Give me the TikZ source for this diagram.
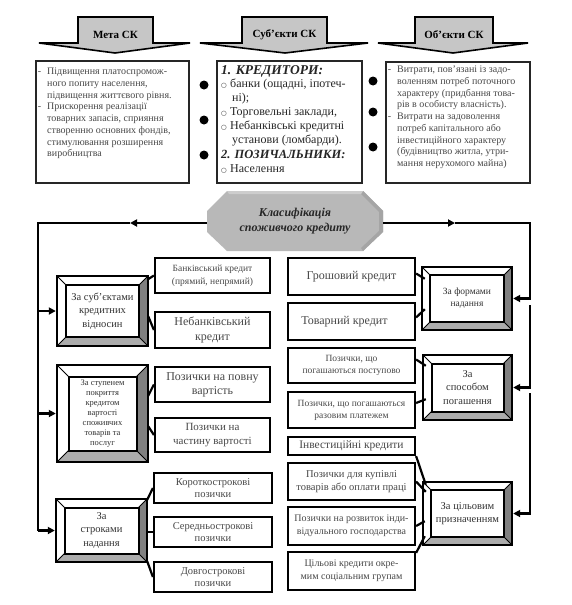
\documentclass[tikz,border=0pt]{standalone}
\usepackage{fontspec}
\setmainfont{Liberation Serif}
\newfontfamily\djv{DejaVu Sans}
\usetikzlibrary{calc,arrows.meta}
\definecolor{arrgray}{RGB}{198,198,198}
\definecolor{bevdark}{RGB}{128,128,128}
\definecolor{bevlight}{RGB}{172,172,172}
\definecolor{octgray}{RGB}{184,184,184}
\definecolor{txtgray}{RGB}{72,72,72}
\tikzset{
  conn/.style={line width=2.2pt, black},
  arr/.style={-{Triangle[length=7pt,width=7pt]}},
  subbox/.style={draw=black, line width=2.2pt, fill=white, inner sep=1pt, align=center, text=txtgray},
  topbox/.style={draw=black!85, line width=2pt, fill=white, inner sep=0pt},
  toptext/.style={anchor=north west, inner sep=0pt, align=left},
}
\newcommand{\oc}{\makebox[9pt][l]{\djv\fontsize{6.5}{7}\selectfont ○}}
\newcommand{\hdr}[2]{{\fontsize{#1}{16}\selectfont\textbf{\textit{#2}}}}
\newcommand{\mkbox}[7]{%
  \node[subbox, minimum width={(#4-#2)*1pt}, minimum height={(#5-#3)*1pt}, font=#6] (#1) at ({(#2+#4)/2},{(#3+#5)/2}) {#7};}
\newcommand{\mkbevel}[8]{%
  \fill[white] (#2,#3) rectangle (#4,#5);
  \fill[bevdark] (#4,#3) -- (#4-#6,#3+#6) -- (#4-#6,#5-#6) -- (#4,#5) -- cycle;
  \fill[bevlight] (#2,#5) -- (#2+#6,#5-#6) -- (#4-#6,#5-#6) -- (#4,#5) -- cycle;
  \draw[line width=0.8pt] (#2,#3) -- (#2+#6,#3+#6) (#4,#3) -- (#4-#6,#3+#6)
        (#2,#5) -- (#2+#6,#5-#6) (#4,#5) -- (#4-#6,#5-#6);
  \node[draw, line width=2.4pt, inner sep=0pt, minimum width={(#4-#2)*1pt}, minimum height={(#5-#3)*1pt}] (#1) at ({(#2+#4)/2},{(#3+#5)/2}) {};
  \node[draw, line width=2pt, fill=white, inner sep=0pt, align=center, text=black!80, font=#7,
        minimum width={(#4-#2-2*#6)*1pt}, minimum height={(#5-#3-2*#6)*1pt}] (#1-in) at ({(#2+#4)/2},{(#3+#5)/2}) {#8};}
\newcommand{\mkarrow}[7]{%
  \filldraw[fill=arrgray, draw=black, line width=1.6pt, line join=miter]
    (#2,17) -- (#3,17) -- (#3,43) -- (#5,43) -- (#6,53) -- (#4,43) -- (#2,43) -- cycle;
  \node[font=\bfseries\fontsize{11}{13}\selectfont, inner sep=0pt] (#1) at ({(#2+#3)/2},35) {#7};}
\begin{document}
\begin{tikzpicture}[x=1pt,y=-1pt]
\useasboundingbox (0,0) rectangle (571,605);
\fill[white] (0,0) rectangle (571,605);

% ---------- top arrows ----------
\mkarrow{hmeta}{78}{153}{39}{190}{115}{Мета СК}
\mkarrow{hsubj}{242}{327}{200}{368}{285}{Суб’єкти СК}
\mkarrow{hobj}{415}{493}{378}{528}{453}{Об’єкти СК}

% ---------- top boxes ----------
\node[topbox, minimum width=153, minimum height=122] (meta) at (112.5,122) {};
\node[topbox, minimum width=145, minimum height=122] (subj) at (289.5,122) {};
\node[topbox, minimum width=144, minimum height=121] (obj) at (458,122.5) {};

\node[toptext, text=txtgray, font=\fontsize{10}{11.7}\selectfont] (metat) at (47,68)
 {\llap{-\hspace{6pt}}Підвищення платоспромож-\\ного попиту населення,\\підвищення життєвого рівня.\\\llap{-\hspace{6pt}}Прискорення реалізації\\товарних запасів, сприяння\\створенню основних фондів,\\стимулювання розширення\\виробництва};
\node[toptext, text=black!85, font=\fontsize{12}{13.8}\selectfont] (subjt) at (221,65)
 {\hdr{13.5}{1. КРЕДИТОРИ:}\\\oc банки (ощадні, іпотеч-\\\hspace*{11pt}ні);\\\oc Торговельні заклади,\\\oc Небанківські кредитні\\\hspace*{11pt}установи (ломбарди).\\[2pt]\hdr{12.5}{2. ПОЗИЧАЛЬНИКИ:}\\\oc Населення};
\node[toptext, text=txtgray, font=\fontsize{10}{11.7}\selectfont] (objt) at (397,66)
 {\llap{-\hspace{6pt}}Витрати, пов’язані із задо-\\воленням потреб поточного\\характеру (придбання това-\\рів в особисту власність).\\\llap{-\hspace{6pt}}Витрати на задоволення\\потреб капітального або\\інвестиційного характеру\\(будівництво житла, утри-\\мання нерухомого майна)};

\foreach \yy in {85,120,155} \fill (204,\yy) circle (4.5);
\foreach \yy in {81,112,147} \fill (373,\yy) circle (4.5);

% ---------- classification octagon ----------
\fill[octgray] (227,191) -- (363,191) -- (383,211) -- (383,232) -- (363,251) -- (227,251) -- (207,232) -- (207,211) -- cycle;
\fill[octgray!90!black] (363,191) -- (383,211) -- (383,232) -- (363,251) -- (361,248) -- (379,231) -- (379,212) -- (361,194) -- cycle;
\fill[octgray!70!white] (227,191) -- (363,191) -- (361,194) -- (229,194) -- cycle;
\node[font=\bfseries\itshape\fontsize{12}{15}\selectfont, text=black!85, align=center, minimum width=176, minimum height=60, inner sep=0pt] (cls) at (295,221) {Класифікація\\споживчого кредиту};

% ---------- category boxes ----------
\mkbevel{c1}{57}{276}{148}{346}{9}{\fontsize{10.5}{13.5}\selectfont}{За суб’єктами\\кредитних\\відносин}
\mkbevel{c2}{57}{365}{148}{462}{11.5}{\fontsize{8.5}{10}\selectfont}{За ступенем\\покриття\\кредитом\\вартості\\споживчих\\товарів та\\послуг}
\mkbevel{c3}{56}{499}{147}{562}{8.5}{\fontsize{10.5}{13.5}\selectfont}{За\\строками\\надання}
\mkbevel{c4}{422}{267}{512}{330}{8}{\fontsize{9.5}{12}\selectfont}{За формами\\надання}
\mkbevel{c5}{423}{355}{512}{420}{8.5}{\fontsize{10.5}{13.5}\selectfont}{За\\способом\\погашення}
\mkbevel{c6}{423}{482}{512}{545}{8}{\fontsize{10.5}{13}\selectfont}{За цільовим\\призначенням}

% ---------- sub boxes ----------
\mkbox{b1}{155}{258}{270}{293}{\fontsize{9.5}{13}\selectfont}{Банківський кредит\\(прямий, непрямий)}
\mkbox{b2}{155}{312}{270}{348}{\fontsize{12}{14.5}\selectfont}{Небанківський\\кредит}
\mkbox{b3}{155}{367}{270}{402}{\fontsize{12}{14}\selectfont}{Позички на повну\\вартість}
\mkbox{b4}{155}{418}{270}{452}{\fontsize{11}{14}\selectfont}{Позички на\\частину вартості}
\mkbox{b5}{154}{473}{272}{503}{\fontsize{10.5}{12.5}\selectfont}{Короткострокові\\позички}
\mkbox{b6}{154}{517}{272}{547}{\fontsize{10.5}{12.5}\selectfont}{Середньострокові\\позички}
\mkbox{b7}{154}{562}{272}{592}{\fontsize{10.5}{12.5}\selectfont}{Довгострокові\\позички}

\mkbox{d1}{288}{258}{415}{295}{\fontsize{12}{14}\selectfont}{Грошовий кредит}
\mkbox{d2}{288}{303}{415}{340}{\fontsize{12}{14}\selectfont}{Товарний кредит\hspace*{14pt}}
\mkbox{d3}{288}{348}{415}{383}{\fontsize{9.5}{12}\selectfont}{Позички, що\\погашаються поступово}
\mkbox{d4}{288}{392}{415}{428}{\fontsize{9.5}{12}\selectfont}{Позички, що погашаються\\разовим платежем}
\mkbox{d5}{288}{437}{415}{455}{\fontsize{11.5}{13}\selectfont}{Інвестиційні кредити}
\mkbox{d6}{288}{463}{415}{500}{\fontsize{10.5}{13}\selectfont}{Позички для купівлі\\товарів або оплати праці}
\mkbox{d7}{288}{507}{415}{545}{\fontsize{10}{13}\selectfont}{Позички на розвиток інди-\\відуального господарства}
\mkbox{d8}{288}{552}{415}{590}{\fontsize{10}{13}\selectfont}{Цільові кредити окре-\\мим соціальним групам}

% ---------- short connectors ----------
\draw[conn] ($(c1.north east)+(-2,5)$) -- (b1.west);
\draw[conn] ($(c1.south east)+(-1,-31)$) -- (b2.west);
\draw[conn] ($(c2.north east)+(-1,32)$) -- (b3.west);
\draw[conn] ($(c2.south east)+(-1,-37)$) -- (b4.west);
\draw[conn] ($(c3.north east)+(-1,2)$) -- (b5.west);
\draw[conn] (b6.west -| c3.east) -- (b6.west);
\draw[conn] ($(c3.south east)+(-1,-2)$) -- (b7.west);

\draw[conn] ($(d1.east)+(0,-3)$) -- ($(c4.north west)+(4,13)$);
\draw[conn] ($(d2.east)+(0,-4)$) -- ($(c4.south west)+(4,-22)$);
\draw[conn] ($(d3.east)+(0,-6)$) -- ($(c5.north west)+(4,12)$);
\draw[conn] ($(d4.east)+(0,-7)$) -- ($(c5.south west)+(4,-22)$);
\draw[conn] (d5.south east) -- ($(c6.north west)+(4,4)$);
\draw[conn] (d6.east) -- ($(c6.north west)+(4,11)$);
\draw[conn] (d7.east) -- ($(c6.south west)+(3,-25)$);
\draw[conn] ($(d8.north east)+(0,2)$) -- ($(c6.south west)+(3,-10)$);

% ---------- main connectors ----------
\coordinate (lmid) at (130,223);
\coordinate (L0) at (38,223);
\draw[conn,arr] ($(cls.west)+(0,2)$) -- (lmid);
\draw[conn] (lmid) -- (L0) -- (c3.west -| L0);
\draw[conn,arr] (c1.west -| L0) -- (c1.west);
\draw[conn,arr] (c2.west -| L0) -- (c2.west);
\draw[conn,arr] (c3.west -| L0) -- (c3.west);

\coordinate (rmid) at (455,223);
\coordinate (R0) at (530,223);
\coordinate (R1) at (530,305);
\coordinate (R2) at (530,393);
\draw[conn,arr] ($(cls.east)+(0,2)$) -- (rmid);
\draw[conn,arr] (rmid) -- (R0) |- (c4.east);
\draw[conn,arr] (R1) |- (c5.east);
\draw[conn,arr] (R2) |- (c6.east);
\end{tikzpicture}
\end{document}
